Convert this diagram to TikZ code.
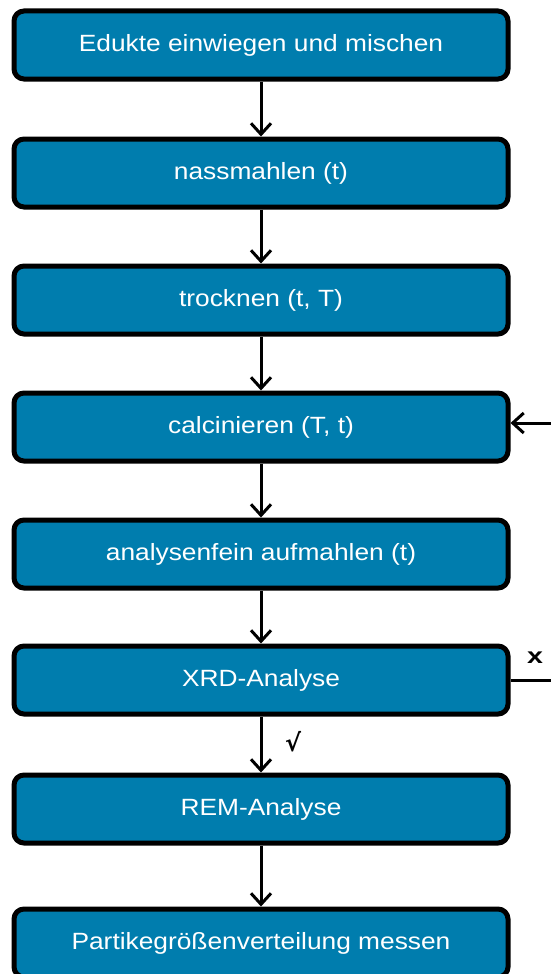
\documentclass[tikz,border=0pt]{standalone}
\usepackage{fontspec}
\setmainfont{Liberation Sans}
\newfontfamily\symfont{DejaVu Sans}
\usetikzlibrary{arrows.meta}
\definecolor{boxblue}{RGB}{0,125,174}
\newcommand\wtxt[1]{\scalebox{1.12}[1]{#1}}
\tikzset{
  x=1pt, y=1pt,
  stepbox/.style={draw=black, line width=5pt, fill=boxblue, rounded corners=10pt,
    minimum width=494pt, minimum height=68pt, inner sep=0pt,
    text=white, font=\fontsize{23.5}{27}\selectfont},
  flow/.style={line width=3pt, -{Straight Barb[length=11pt,width=20pt,line width=3pt]}},
  plain/.style={line width=3pt},
  marklabel/.style={inner sep=0pt, font=\bfseries\fontsize{22}{24}\selectfont}
}
\begin{document}
\begin{tikzpicture}
\useasboundingbox (0,0) rectangle (550,-974);
\fill[white] (0,0) rectangle (550,-974);
\node[stepbox] (b1) at (261,-45)  {\wtxt{Edukte einwiegen und mischen}};
\node[stepbox] (b2) at (261,-173) {\wtxt{nassmahlen (t)}};
\node[stepbox] (b3) at (261,-300) {\wtxt{trocknen (t, T)}};
\node[stepbox] (b4) at (261,-427) {\wtxt{calcinieren (T, t)}};
\node[stepbox] (b5) at (261,-554) {\wtxt{analysenfein aufmahlen (t)}};
\node[stepbox] (b6) at (261,-680) {\wtxt{XRD-Analyse}};
\node[stepbox] (b7) at (261,-809) {\wtxt{REM-Analyse}};
\node[stepbox] (b8) at (261,-943) {\wtxt{Partikegrößenverteilung messen}};
\draw[flow] (b1) -- (b2);
\draw[flow] (b2) -- (b3);
\draw[flow] (b3) -- (b4);
\draw[flow] (b4) -- (b5);
\draw[flow] (b5) -- (b6);
\draw[flow] (b6) -- (b7);
\draw[flow] (b7) -- (b8);
% loop back from the XRD check into calcination
\coordinate (fbin) at (552,-423);
\coordinate (fbout) at (552,-680);
\draw[flow] (fbin) -- (b4.east |- fbin);
\draw[plain] (b6.east |- fbout) -- (fbout);
\node[marklabel] (xl) at (535,-658) {\scalebox{1.3}[1]{x}};
\node[marklabel, font=\symfont\bfseries\fontsize{24}{26}\selectfont] (ok) at (293,-742) {√};
\end{tikzpicture}
\end{document}
